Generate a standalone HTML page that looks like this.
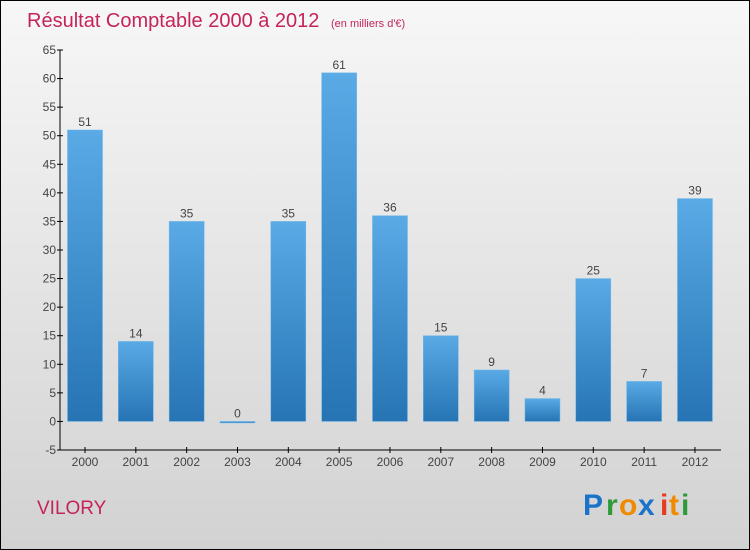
<!DOCTYPE html>
<html><head><meta charset="utf-8"><style>
body{margin:0}
svg{display:block;font-family:"Liberation Sans",sans-serif}
</style></head><body>
<svg width="750" height="550" xmlns="http://www.w3.org/2000/svg">
<defs>
<linearGradient id="bg" x1="0" y1="0" x2="0" y2="1"><stop offset="0" stop-color="#f7f7f7"/><stop offset="1" stop-color="#d2d2d2"/></linearGradient>
<linearGradient id="bar" x1="0" y1="0" x2="0" y2="1"><stop offset="0" stop-color="#5aaae6"/><stop offset="1" stop-color="#2674b4"/></linearGradient>
</defs>
<rect x="0.5" y="0.5" width="749" height="549" fill="url(#bg)" stroke="#000"/>
<text x="27" y="27" font-size="20" fill="#c4245a" font-weight="300">Résultat Comptable 2000 à 2012 <tspan font-size="11" dx="6">(en milliers d'€)</tspan></text>
<g id="axes"></g>
<g id="bars"></g>
<text x="37" y="514" font-size="19" fill="#c4245a">VILORY</text>
<g font-size="30" font-weight="bold">
<text x="583" y="515" fill="#1a73c9">P</text><text x="606" y="515" fill="#2e9a3a">r</text><text x="619" y="515" fill="#f08a00">o</text><text x="638" y="515" fill="#1a73c9">x</text><text x="660" y="515" fill="#e8381e">i</text><text x="669" y="515" fill="#f08a00">t</text><text x="681" y="515" fill="#2e9a3a">i</text>
</g>
</svg>
<script>
const categories=["2000","2001","2002","2003","2004","2005","2006","2007","2008","2009","2010","2011","2012"];
const values=[51,14,35,0,35,61,36,15,9,4,25,7,39];
const yTicks=[-5,0,5,10,15,20,25,30,35,40,45,50,55,60,65];
const NS="http://www.w3.org/2000/svg";
const yMin=-5,yMax=65,pTop=50,pBottom=450,pLeft=60,pRight=721;
const yS=v=>pBottom-(v-yMin)/(yMax-yMin)*(pBottom-pTop);
const step=50.83,x0=85;
const xS=i=>x0+i*step;
function mk(t,a,p){const e=document.createElementNS(NS,t);for(const k in a)e.setAttribute(k,a[k]);p.appendChild(e);return e;}
const axes=document.getElementById('axes'),bars=document.getElementById('bars');
const ya=mk('line',{x1:pLeft,y1:pTop,x2:pLeft,y2:pBottom,stroke:'#000'},axes);


const xa=mk('line',{x1:pLeft,y1:pBottom,x2:pRight,y2:pBottom,stroke:'#000'},axes);


yTicks.forEach(v=>{
 mk('line',{x1:pLeft-3,y1:yS(v),x2:pLeft+3,y2:yS(v),stroke:'#000'},axes);
 const t=mk('text',{x:pLeft-4,y:yS(v)+4,'font-size':12,fill:'#444','text-anchor':'end'},axes);
 t.textContent=v;
 
 
});
categories.forEach((c,i)=>{
 mk('line',{x1:xS(i),y1:pBottom-3,x2:xS(i),y2:pBottom+3,stroke:'#000'},axes);
 const t=mk('text',{x:xS(i),y:pBottom+16,'font-size':12,fill:'#444','text-anchor':'middle'},axes);
 t.textContent=c;
 
 
 const v=values[i];
 const h=Math.max(Math.abs(yS(v)-yS(0)),1.5);
 const r=mk('rect',{x:xS(i)-17.5,y:Math.min(yS(v),yS(0)),width:35,height:h,fill:'url(#bar)',stroke:'#6bb5ea','stroke-width':0.5},bars);
 
 
 const l=mk('text',{x:xS(i),y:yS(Math.max(v,0))-4,'font-size':12,fill:'#444','text-anchor':'middle'},bars);
 l.textContent=v;
 
 
});
</script>
</body></html>
